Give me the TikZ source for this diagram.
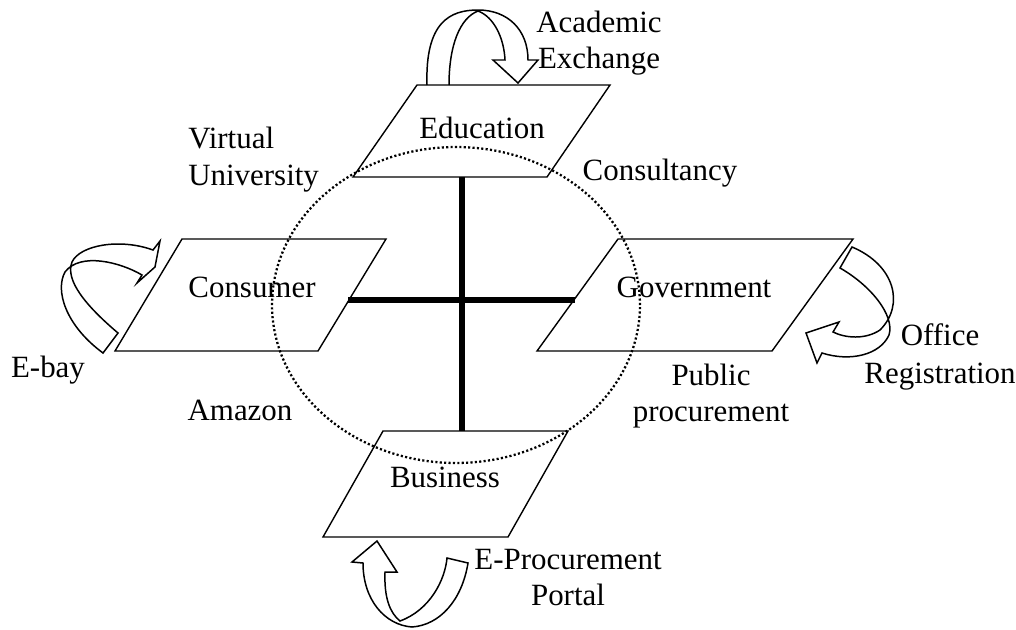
\documentclass[tikz,border=0pt]{standalone}
\usepackage{fontspec}
\setmainfont{Liberation Serif}
\begin{document}
\begin{tikzpicture}[x=0.02cm,y=-0.02cm,
  box/.style={line width=0.8pt, line join=miter},
  ribbon/.style={line width=0.85pt, line join=miter},
  bar/.style={line width=3pt},
  ring/.style={line width=1.3pt, dash pattern=on 1.2pt off 1.3pt},
  lbl/.style={font=\fontsize{17.6pt}{21pt}\selectfont, inner sep=0pt, anchor=base}]
\useasboundingbox (0,0) rectangle (1016,629);

% parallelograms
\draw[box] (417,85) -- (610,85) -- (547,177) -- (353,177) -- cycle;
\draw[box] (182,239) -- (386,239) -- (318,351) -- (115,351) -- cycle;
\draw[box] (618,239) -- (853,239) -- (772,351) -- (537,351) -- cycle;
\draw[box] (383,431) -- (568,431) -- (508,537) -- (323,537) -- cycle;

% cross
\coordinate (eduB) at (462,177);
\coordinate (busT) at (462,431);
\coordinate (conR) at (348,300);
\coordinate (govL) at (575,300);
\draw[bar] (eduB) -- (busT);
\draw[bar] (conR) -- (govL);

% dotted ellipse
\draw[ring] (456,305) ellipse [x radius=3.68cm, y radius=3.16cm];

% top curved arrow
\draw[ribbon] (427,85) .. controls (425,22) and (450,10) .. (478,10)
  .. controls (508,10) and (528,30) .. (528,60) -- (538,60) -- (518,83)
  -- (493,60) -- (505,60) .. controls (504,38) and (494,17) .. (478,11)
  .. controls (460,18) and (449,45) .. (449,85);

% left curved arrow
\draw[ribbon] (118,333) .. controls (85,305) and (65,280) .. (72,262)
  .. controls (80,245) and (120,238) .. (153,250) -- (160,241) -- (155,267)
  -- (137,283) -- (142,275) .. controls (120,262) and (80,252) .. (65,272)
  .. controls (55,290) and (65,325) .. (103,353) -- cycle;

% right curved arrow
\draw[ribbon] (852,247) .. controls (895,265) and (905,305) .. (880,330)
  .. controls (865,340) and (845,338) .. (833,332) -- (839,322) -- (806,333)
  -- (817,363) -- (822,353) .. controls (850,362) and (880,355) .. (889,335)
  .. controls (895,315) and (870,285) .. (840,268) -- cycle;

% bottom curved arrow
\draw[ribbon] (385,572) .. controls (384,598) and (390,613) .. (400,621)
  .. controls (430,610) and (445,580) .. (447,558) -- (468,563)
  .. controls (462,600) and (440,625) .. (412,627)
  .. controls (385,625) and (363,600) .. (363,563) -- (352,562) -- (377,541)
  -- (397,572) -- cycle;

% labels
\node[lbl] (acad) at (599,32) {Academic};
\node[lbl] (exch) at (599,68) {Exchange};
\node[lbl] (edu) at (482,138) {Education};
\node[lbl, anchor=base west] (virt) at (188,148) {Virtual};
\node[lbl, anchor=base west] (univ) at (188,185) {University};
\node[lbl] (consult) at (660,180) {Consultancy};
\node[lbl] (consumer) at (252,297) {Consumer};
\node[lbl] (gov) at (694,297) {Government};
\node[lbl] (ebay) at (48,377) {E-bay};
\node[lbl] (office) at (940,345) {Office};
\node[lbl] (regis) at (940,383) {Registration};
\node[lbl] (public) at (711,385) {Public};
\node[lbl] (procure) at (711,421) {procurement};
\node[lbl] (amazon) at (240,420) {Amazon};
\node[lbl] (business) at (445,487) {Business};
\node[lbl] (eproc) at (568,569) {E-Procurement};
\node[lbl] (portal) at (568,605) {Portal};
\end{tikzpicture}
\end{document}
